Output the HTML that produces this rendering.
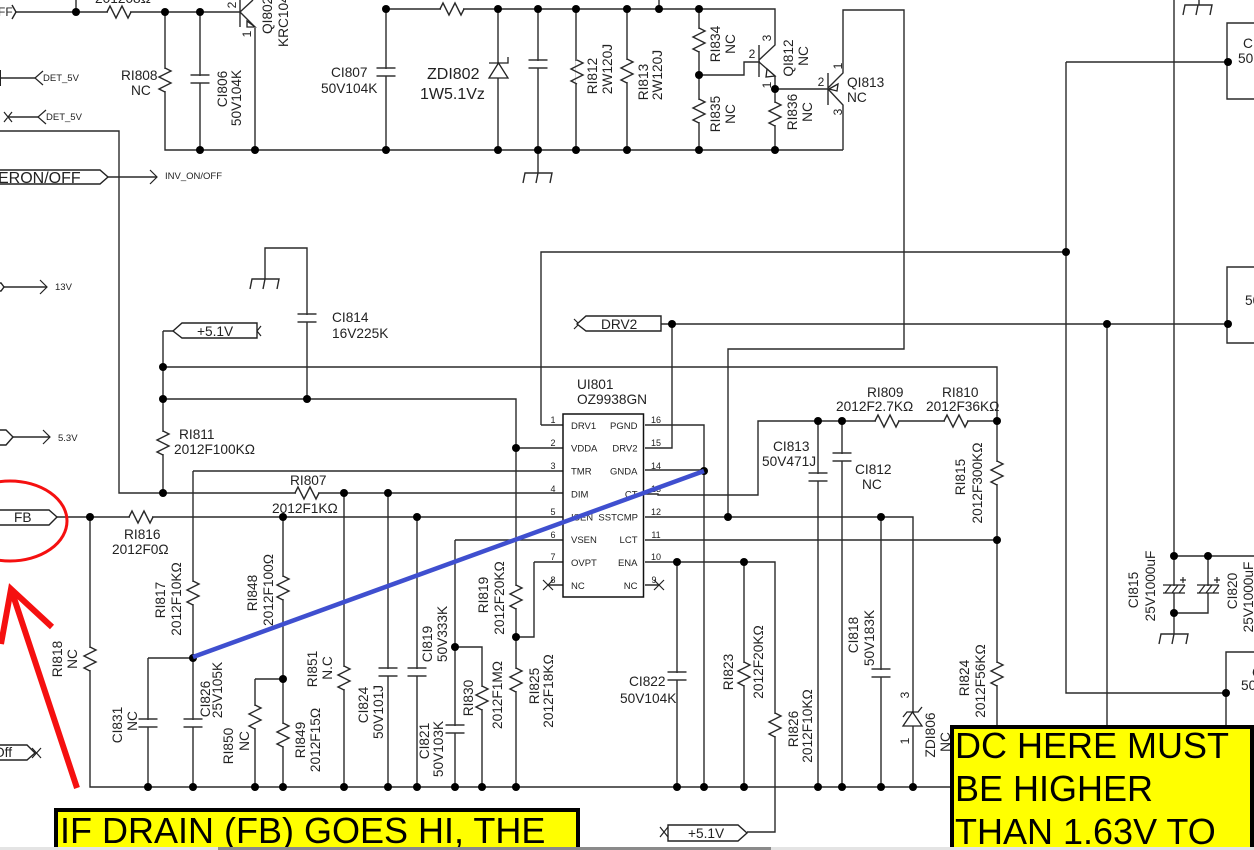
<!DOCTYPE html>
<html>
<head>
<meta charset="utf-8">
<style>
html,body{margin:0;padding:0;background:#fff}
svg{display:block}
text{font-family:"Liberation Sans",sans-serif;fill:#222;font-size:13.7px}
.m{text-anchor:middle}
.e{text-anchor:end}
.s{font-size:9.5px}
.p{font-size:9px;text-anchor:middle}
.b{font-size:36px;fill:#000}
</style>
</head>
<body>
<svg xmlns="http://www.w3.org/2000/svg" width="1254" height="850" viewBox="0 0 1254 850">
<defs>
<g id="rv"><path d="M0,1V23" stroke="#fff" stroke-width="3" fill="none"/><path d="M0,0L6,3L-6,9L6,15L-6,21L0,24" fill="none" stroke="#2a2a2a" stroke-width="1.4"/></g>
<g id="rh"><path d="M1,0H23" stroke="#fff" stroke-width="3" fill="none"/><path d="M0,0L3,-6L9,6L15,-6L21,6L24,0" fill="none" stroke="#2a2a2a" stroke-width="1.4"/></g>
<g id="cv"><path d="M0,1V8" stroke="#fff" stroke-width="3" fill="none"/><path d="M-9.5,0H9.5M-9.5,8H9.5" stroke="#333" stroke-width="1.6" fill="none"/></g>
<g id="gnd"><path d="M-15,10L-13,0H14L12,10M-2,10L0,0" fill="none" stroke="#2a2a2a" stroke-width="1.4"/></g>
<g id="ec"><path d="M0,1V8" stroke="#fff" stroke-width="3" fill="none"/><path d="M-11,0H11M-11,8H11M-9,8L-3,0M-2,8L4,0M5,8L11,0M9,-8V-2M6,-5H12" stroke="#222" stroke-width="1.2" fill="none"/></g>
</defs>

<!-- wires -->
<g fill="none" stroke="#2a2a2a" stroke-width="1.4">
<path d="M15,12H240M76,12V0M165,12V150H843M200,12V150M255,28V150"/>
<path d="M240,0V27M240,12L253,0M240,12L255,27"/>
<path d="M386,9H775V45L759,60M386,9V150M498,9V150M538,9V173M576,9V150M627,9V150M659,9V0M699,9V150"/>
<path d="M699,75H744V62H760M759,45V77M759,62L775,76V150M775,89H828M828,73V105M828,88L843,73V10H904V349H728V517M828,89L843,105V150"/>
<path d="M0,78H35M8,117H38M0,131H119V493H563M108,177H157M0,287H47M0,437H50"/>
<path d="M57,517H563M645,517H913V787M90,517V787H950"/>
<path d="M163,331V493M163,331H175M163,367H997V725M163,399H516V787"/>
<path d="M307,399V248H265V279"/>
<path d="M541,425V252H1066M541,425H563M1066,62H1228M1066,62V693H1228"/>
<path d="M661,324H1228M672,324V448H645M1107,324V725"/>
<path d="M645,425H704V787M645,470H704M645,494H658V495H758V421H997M645,540H997"/>
<path d="M193,471H563M193,471V787M148,658H193M148,658V787"/>
<path d="M516,448H563"/>
<path d="M283,517V787M255,679H283M255,679V787"/>
<path d="M344,493V787M388,493V787M417,517V787"/>
<path d="M455,540H563M455,540V787M455,647H482V787"/>
<path d="M534,562H563M534,562V637H516"/>
<path d="M645,562H775V832H747M677,562V787M744,562V787"/>
<path d="M548,585H563M645,585H659"/>
<path d="M818,421V787M842,421V787M881,517V787"/>
<path d="M1174,0V634M1174,556H1254M1208,556V613H1174"/>
<path d="M1199,0V5"/>
<path d="M1254,23H1227V99H1254M1254,267H1227V343H1254M1254,652H1226V725"/>
</g>

<!-- open arrows and x marks -->
<g fill="none" stroke="#222" stroke-width="1.2">
<path d="M150,170L157,177L150,184M40,280L47,287L40,294M43,430L50,437L43,444M43,71L35,78L43,85M46,110L38,117L46,124"/>
<path d="M4,112L12,122M4,122L12,112M253,326L261,336M253,336L261,326M574,319L584,329M574,329L584,319M543,580L553,590M543,590L553,580M654,580L664,590M654,590L664,580M660,827L668,837M660,837L668,827M32,748L41,758M32,758L41,748"/>
<path d="M0,70V86" stroke-width="2"/>
</g>

<!-- connector pentagons -->
<g fill="#fff" stroke="#222" stroke-width="1.4">
<path d="M-2,170H100L108,177L100,184H-2Z"/>
<path d="M-2,510H49L57,517L49,525H-2Z"/>
<path d="M-2,430H6L13,437L6,445H-2Z"/>
<path d="M-2,283H1L4,287L1,291H-2Z"/>
<path d="M-2,745H27L35,753L27,760H-2Z"/>
<path d="M173,331L182,323H257V338H182Z"/>
<path d="M577,324L586,316H661V331H586Z"/>
<path d="M668,825H738L747,833L738,841H668Z"/>
<path d="M12,5L16,12L12,19" fill="none"/>
</g>

<!-- resistors -->
<use href="#rh" x="107" y="12"/><use href="#rh" x="440" y="9"/>
<use href="#rv" x="165" y="68"/><use href="#rv" x="577" y="60"/><use href="#rv" x="627" y="59"/>
<use href="#rv" x="699" y="28"/><use href="#rv" x="699" y="99"/><use href="#rv" x="775" y="102"/>
<use href="#rv" x="163" y="431"/><use href="#rh" x="295" y="493"/><use href="#rh" x="129" y="517"/>
<use href="#rh" x="875" y="421"/><use href="#rh" x="944" y="421"/>
<use href="#rv" x="90" y="647"/><use href="#rv" x="193" y="581"/><use href="#rv" x="283" y="576"/>
<use href="#rv" x="255" y="705"/><use href="#rv" x="283" y="723"/><use href="#rv" x="344" y="666"/>
<use href="#rv" x="482" y="686"/><use href="#rv" x="516" y="585"/><use href="#rv" x="516" y="668"/>
<use href="#rv" x="744" y="662"/><use href="#rv" x="775" y="713"/><use href="#rv" x="997" y="461"/><use href="#rv" x="997" y="662"/>

<!-- capacitors -->
<use href="#cv" x="200" y="75"/><use href="#cv" x="386" y="68"/><use href="#cv" x="538" y="60"/>
<use href="#cv" x="307" y="314"/><use href="#cv" x="818" y="473"/><use href="#cv" x="842" y="453"/>
<use href="#cv" x="148" y="719"/><use href="#cv" x="193" y="719"/><use href="#cv" x="388" y="668"/><use href="#cv" x="417" y="668"/>
<use href="#cv" x="455" y="725"/><use href="#cv" x="677" y="672"/><use href="#cv" x="881" y="669"/>
<use href="#ec" x="1174" y="585"/><use href="#ec" x="1208" y="585"/>

<!-- grounds -->
<use href="#gnd" x="265" y="279"/><use href="#gnd" x="538" y="173"/><use href="#gnd" x="1198" y="5"/><use href="#gnd" x="1174" y="634"/>

<!-- zener and transistor heads -->
<g fill="#fff" stroke="#222" stroke-width="1.3">
<path d="M489,78H508L498.500,63Z"/><path d="M489,63H508V57" fill="none"/>
<path d="M903,726H922L912.500,712Z"/><path d="M903,717L907,712H918L922,707" fill="none"/>
<path d="M247,21L255,27L247,27Z"/>
<path d="M767,69L775,76L766,77Z"/>
<path d="M829,89L838,84L837,91Z"/>
</g>

<!-- chip -->
<rect x="563" y="414" width="80.500" height="183" fill="#fff" stroke="#111" stroke-width="1.5"/>
<g>
<text class="s" x="571" y="429">DRV1</text><text class="s" x="571" y="451.500">VDDA</text><text class="s" x="571" y="474.500">TMR</text><text class="s" x="571" y="497.500">DIM</text><text class="s" x="571" y="520.500">ISEN</text><text class="s" x="571" y="543">VSEN</text><text class="s" x="571" y="566">OVPT</text><text class="s" x="571" y="589">NC</text>
<text class="s e" x="637.500" y="429">PGND</text><text class="s e" x="637.500" y="451.500">DRV2</text><text class="s e" x="637.500" y="474.500">GNDA</text><text class="s e" x="637.500" y="497.500">CT</text><text class="s e" x="638" y="520.500">SSTCMP</text><text class="s e" x="637.500" y="543">LCT</text><text class="s e" x="637.500" y="566">ENA</text><text class="s e" x="637.500" y="589">NC</text>
</g>
<text class="p" x="553" y="423">1</text><text class="p" x="553" y="446">2</text><text class="p" x="553" y="469">3</text><text class="p" x="553" y="492">4</text><text class="p" x="553" y="515">5</text><text class="p" x="553" y="538">6</text><text class="p" x="553" y="560">7</text><text class="p" x="553" y="583">8</text>
<text class="p" x="656" y="423">16</text><text class="p" x="656" y="446">15</text><text class="p" x="656" y="469">14</text><text class="p" x="656" y="492">13</text><text class="p" x="656" y="515">12</text><text class="p" x="656" y="538">11</text><text class="p" x="656" y="560">10</text><text class="p" x="654" y="583">9</text>

<!-- nodes -->
<g fill="#000">
<circle cx="76" cy="12" r="4"/><circle cx="165" cy="12" r="4"/><circle cx="200" cy="12" r="4"/>
<circle cx="200" cy="150" r="4"/><circle cx="255" cy="150" r="4"/><circle cx="386" cy="150" r="4"/><circle cx="498" cy="150" r="4"/><circle cx="538" cy="150" r="4"/><circle cx="576" cy="150" r="4"/><circle cx="627" cy="150" r="4"/><circle cx="699" cy="150" r="4"/><circle cx="775" cy="150" r="4"/>
<circle cx="386" cy="9" r="4"/><circle cx="498" cy="9" r="4"/><circle cx="538" cy="9" r="4"/><circle cx="576" cy="9" r="4"/><circle cx="627" cy="9" r="4"/><circle cx="659" cy="9" r="4"/><circle cx="699" cy="9" r="4"/>
<circle cx="699" cy="75" r="4"/><circle cx="775" cy="89" r="4"/>
<circle cx="1066" cy="252" r="4"/><circle cx="1228" cy="62" r="4"/><circle cx="1228" cy="324" r="4"/><circle cx="1107" cy="324" r="4"/><circle cx="672" cy="324" r="4"/><circle cx="1226" cy="693" r="4"/>
<circle cx="163" cy="367" r="4"/><circle cx="163" cy="399" r="4"/><circle cx="307" cy="399" r="4"/><circle cx="163" cy="493" r="4"/>
<circle cx="344" cy="493" r="4"/><circle cx="388" cy="493" r="4"/>
<circle cx="90" cy="517" r="4"/><circle cx="283" cy="517" r="4"/><circle cx="417" cy="517" r="4"/><circle cx="728" cy="517" r="4"/><circle cx="881" cy="517" r="4"/>
<circle cx="516" cy="448" r="4"/><circle cx="704" cy="471" r="4"/><circle cx="818" cy="421" r="4"/><circle cx="842" cy="421" r="4"/><circle cx="997" cy="421" r="4"/><circle cx="997" cy="540" r="4"/>
<circle cx="677" cy="562" r="4"/><circle cx="744" cy="562" r="4"/>
<circle cx="193" cy="658" r="4"/><circle cx="283" cy="679" r="4"/><circle cx="455" cy="647" r="4"/><circle cx="516" cy="637" r="4"/>
<circle cx="148" cy="787" r="4"/><circle cx="193" cy="787" r="4"/><circle cx="255" cy="787" r="4"/><circle cx="283" cy="787" r="4"/><circle cx="344" cy="787" r="4"/><circle cx="388" cy="787" r="4"/><circle cx="417" cy="787" r="4"/><circle cx="455" cy="787" r="4"/><circle cx="482" cy="787" r="4"/><circle cx="516" cy="787" r="4"/><circle cx="677" cy="787" r="4"/><circle cx="704" cy="787" r="4"/><circle cx="744" cy="787" r="4"/><circle cx="818" cy="787" r="4"/><circle cx="842" cy="787" r="4"/><circle cx="881" cy="787" r="4"/><circle cx="913" cy="787" r="4"/>
<circle cx="1174" cy="556" r="4"/><circle cx="1208" cy="556" r="4"/><circle cx="1174" cy="613" r="4"/>
</g>

<!-- horizontal labels -->
<text x="95" y="3">201208Ω</text>
<text x="-2" y="16" style="font-size:12px">FF</text>
<text class="s" x="43" y="81">DET_5V</text>
<text class="s" x="46" y="120">DET_5V</text>
<text x="-2" y="183" style="font-size:16px">ERON/OFF</text>
<text class="s" x="165" y="179">INV_ON/OFF</text>
<text class="s" x="55" y="290">13V</text>
<text class="s" x="58" y="441">5.3V</text>
<text x="14" y="522">FB</text>
<text x="-6" y="757">Off</text>
<text x="121" y="80">RI808</text><text x="131" y="95">NC</text>
<text x="331" y="77">CI807</text><text x="321" y="93">50V104K</text>
<text x="427" y="79" style="font-size:16px">ZDI802</text><text x="420" y="99" style="font-size:16px">1W5.1Vz</text>
<text x="847" y="87">QI813</text><text x="847" y="102">NC</text>
<text x="332" y="322">CI814</text><text x="332" y="338">16V225K</text>
<text x="197" y="336">+5.1V</text>
<text x="601" y="329">DRV2</text>
<text x="577" y="389">UI801</text><text x="577" y="404">OZ9938GN</text>
<text x="179" y="439">RI811</text><text x="174" y="454">2012F100KΩ</text>
<text x="290" y="485">RI807</text><text x="272" y="513">2012F1KΩ</text>
<text x="124" y="539">RI816</text><text x="112" y="554">2012F0Ω</text>
<text x="867" y="397">RI809</text><text x="836" y="411">2012F2.7KΩ</text>
<text x="942" y="397">RI810</text><text x="926" y="411">2012F36KΩ</text>
<text x="773" y="451">CI813</text><text x="762" y="466">50V471J</text>
<text x="855" y="474">CI812</text><text x="862" y="489">NC</text>
<text x="629" y="686">CI822</text><text x="620" y="703">50V104K</text>
<text x="688" y="838">+5.1V</text>
<text x="1243" y="48">CI</text><text x="1238" y="63">50'</text>
<text x="1245" y="305">50</text>
<text x="1252" y="677">C</text><text x="1241" y="690">50</text>
<text class="p" x="232" y="9" transform="rotate(-90 232 5)" style="font-size:12px">2</text>
<text class="p" x="752" y="58" style="font-size:12px">2</text>
<text class="p" x="821" y="86" style="font-size:12px">2</text>

<!-- rotated labels -->
<g>
<text class="m" transform="translate(227,89) rotate(-90)">CI806</text>
<text class="m" transform="translate(241,98) rotate(-90)">50V104K</text>
<text transform="translate(272,34) rotate(-90)">QI802</text>
<text transform="translate(288,47) rotate(-90)">KRC104</text>
<text class="m" transform="translate(597,76) rotate(-90)">RI812</text>
<text class="m" transform="translate(612,69) rotate(-90)">2W120J</text>
<text class="m" transform="translate(648,82) rotate(-90)">RI813</text>
<text class="m" transform="translate(662,75) rotate(-90)">2W120J</text>
<text class="m" transform="translate(720,44) rotate(-90)">RI834</text>
<text class="m" transform="translate(735,44) rotate(-90)">NC</text>
<text class="m" transform="translate(720,114) rotate(-90)">RI835</text>
<text class="m" transform="translate(735,114) rotate(-90)">NC</text>
<text class="m" transform="translate(793,58) rotate(-90)">QI812</text>
<text class="m" transform="translate(808,56) rotate(-90)">NC</text>
<text class="m" transform="translate(797,112) rotate(-90)">RI836</text>
<text class="m" transform="translate(812,112) rotate(-90)">NC</text>
<text class="m" transform="translate(62,659) rotate(-90)">RI818</text>
<text class="m" transform="translate(77,659) rotate(-90)">NC</text>
<text class="m" transform="translate(165,600) rotate(-90)">RI817</text>
<text class="m" transform="translate(181,599) rotate(-90)">2012F10KΩ</text>
<text class="m" transform="translate(210,699) rotate(-90)">CI826</text>
<text class="m" transform="translate(222,690) rotate(-90)">25V105K</text>
<text class="m" transform="translate(122,725) rotate(-90)">CI831</text>
<text class="m" transform="translate(137,721) rotate(-90)">NC</text>
<text class="m" transform="translate(257,593) rotate(-90)">RI848</text>
<text class="m" transform="translate(273,590) rotate(-90)">2012F100Ω</text>
<text class="m" transform="translate(233,746) rotate(-90)">RI850</text>
<text class="m" transform="translate(249,741) rotate(-90)">NC</text>
<text class="m" transform="translate(305,740) rotate(-90)">RI849</text>
<text class="m" transform="translate(320,740) rotate(-90)">2012F15Ω</text>
<text class="m" transform="translate(317,669) rotate(-90)">RI851</text>
<text class="m" transform="translate(332,668) rotate(-90)">N.C</text>
<text class="m" transform="translate(368,705) rotate(-90)">CI824</text>
<text class="m" transform="translate(383,712) rotate(-90)">50V101J</text>
<text class="m" transform="translate(432,644) rotate(-90)">CI819</text>
<text class="m" transform="translate(447,634) rotate(-90)">50V333K</text>
<text class="m" transform="translate(429,741) rotate(-90)">CI821</text>
<text class="m" transform="translate(443,749) rotate(-90)">50V103K</text>
<text class="m" transform="translate(473,698) rotate(-90)">RI830</text>
<text class="m" transform="translate(502,695) rotate(-90)">2012F1MΩ</text>
<text class="m" transform="translate(488,595) rotate(-90)">RI819</text>
<text class="m" transform="translate(504,598) rotate(-90)">2012F20KΩ</text>
<text class="m" transform="translate(539,686) rotate(-90)">RI825</text>
<text class="m" transform="translate(553,691) rotate(-90)">2012F18KΩ</text>
<text class="m" transform="translate(733,672) rotate(-90)">RI823</text>
<text class="m" transform="translate(763,662) rotate(-90)">2012F20KΩ</text>
<text class="m" transform="translate(798,729) rotate(-90)">RI826</text>
<text class="m" transform="translate(812,726) rotate(-90)">2012F10KΩ</text>
<text class="m" transform="translate(858,635) rotate(-90)">CI818</text>
<text class="m" transform="translate(874,638) rotate(-90)">50V183K</text>
<text class="m" transform="translate(935,735) rotate(-90)">ZDI806</text>
<text class="m" transform="translate(950,742) rotate(-90)">NC</text>
<text class="m" transform="translate(965,477) rotate(-90)">RI815</text>
<text class="m" transform="translate(982,483) rotate(-90)">2012F300KΩ</text>
<text class="m" transform="translate(969,678) rotate(-90)">RI824</text>
<text class="m" transform="translate(985,681) rotate(-90)">2012F56KΩ</text>
<text class="m" transform="translate(1138,590) rotate(-90)">CI815</text>
<text class="m" transform="translate(1155,586) rotate(-90)">25V1000uF</text>
<text class="m" transform="translate(1237,591) rotate(-90)">CI820</text>
<text class="m" transform="translate(1253,597) rotate(-90)">25V1000uF</text>
<text class="p" style="font-size:12px" transform="translate(251,34) rotate(-90)">1</text>
<text class="p" style="font-size:12px" transform="translate(771,38) rotate(-90)">3</text>
<text class="p" style="font-size:12px" transform="translate(771,85) rotate(-90)">1</text>
<text class="p" style="font-size:12px" transform="translate(842,66) rotate(-90)">1</text>
<text class="p" style="font-size:12px" transform="translate(842,112) rotate(-90)">3</text>
<text class="p" style="font-size:12px" transform="translate(909,695) rotate(-90)">3</text>
<text class="p" style="font-size:12px" transform="translate(909,741) rotate(-90)">1</text>
</g>

<!-- annotations -->
<line x1="193" y1="657" x2="704" y2="471" stroke="#3f4fcf" stroke-width="4.500"/>
<ellipse cx="10" cy="521" rx="57" ry="40" fill="none" stroke="#f51010" stroke-width="3"/>
<path d="M77,788L11,589M52,627L11,589L1,644" fill="none" stroke="#f51010" stroke-width="6"/>

<rect x="952" y="727" width="300" height="122" fill="#ff0" stroke="#000" stroke-width="4"/>
<text class="b" x="955" y="758">DC HERE MUST</text>
<text class="b" x="955" y="801">BE HIGHER</text>
<text class="b" x="955" y="844">THAN 1.63V TO</text>

<rect x="56" y="810" width="522" height="40" fill="#ff0" stroke="#000" stroke-width="4"/>
<text class="b" x="60" y="843">IF DRAIN (FB) GOES HI, THE</text>

<rect x="0" y="847" width="218" height="3" fill="#e4e4e4"/>
<rect x="218" y="847" width="553" height="3" fill="#8a8a8a"/>
<rect x="771" y="847" width="483" height="3" fill="#e4e4e4"/>
</svg>
</body>
</html>
